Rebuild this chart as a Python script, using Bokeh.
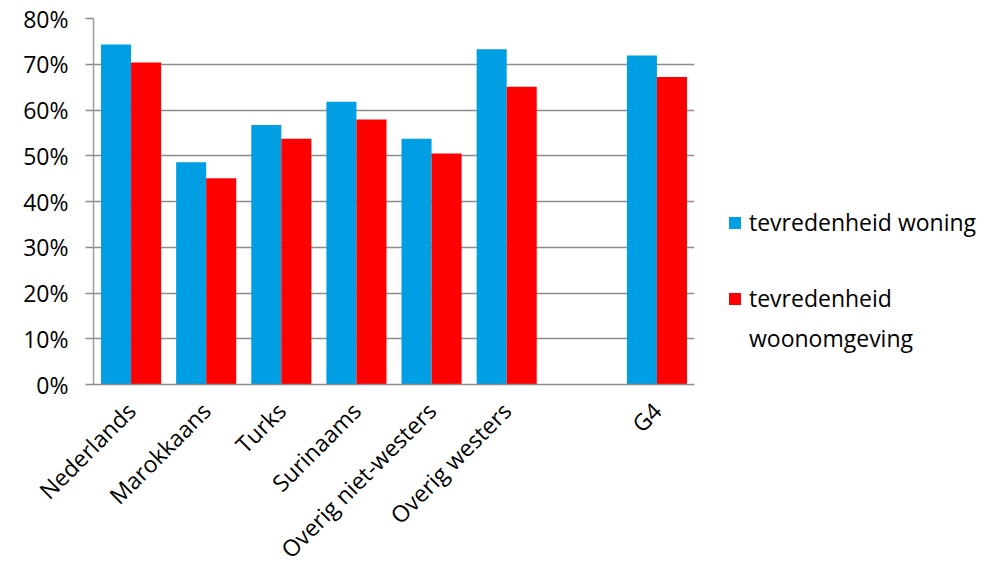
from math import pi
from bokeh.plotting import figure
from bokeh.models import (ColumnDataSource, FactorRange, Range1d, FixedTicker,
                          NumeralTickFormatter, Legend, LegendItem)
from bokeh.transform import dodge
from bokeh.embed import file_html
from bokeh.resources import INLINE

categories = ["Nederlands", "Marokkaans", "Turks", "Surinaams",
              "Overig niet-westers", "Overig westers", "G4"]
woning = [0.743, 0.486, 0.567, 0.618, 0.537, 0.733, 0.719]
woonomgeving = [0.704, 0.451, 0.537, 0.579, 0.505, 0.651, 0.672]
series_names = ["tevredenheid woning", "tevredenheid", "woonomgeving"]
y_ticks = [0, 0.1, 0.2, 0.3, 0.4, 0.5, 0.6, 0.7, 0.8]

# axis has an empty slot between "Overig westers" and "G4"
axis_factors = categories[:6] + [" "] + categories[6:]

FONT = "Open Sans"
BLUE = "#009FE3"
RED = "#FF0000"

src = ColumnDataSource(dict(cat=categories, woning=woning, omg=woonomgeving))

p = figure(frame_width=601, frame_height=366, output_backend="svg",
           toolbar_location=None,
           x_range=FactorRange(*axis_factors, range_padding=0),
           y_range=Range1d(0, 0.8),
           min_border_left=93, min_border_right=0,
           min_border_top=18, min_border_bottom=189)
p.outline_line_color = None
p.background_fill_color = "white"
p.border_fill_color = "white"

r1 = p.vbar(x=dodge("cat", -0.2, range=p.x_range), top="woning", width=0.4,
            source=src, fill_color=BLUE, line_color=None)
r2 = p.vbar(x=dodge("cat", 0.2, range=p.x_range), top="omg", width=0.4,
            source=src, fill_color=RED, line_color=None)
# invisible renderer used only for legend rows without a swatch
ghost = p.vbar(x=[], top=[], width=0.4, fill_alpha=0, line_alpha=0)

# y axis
p.yaxis.ticker = FixedTicker(ticks=y_ticks)
p.yaxis.formatter = NumeralTickFormatter(format="0%")
p.yaxis.major_label_text_font = FONT
p.yaxis.major_label_text_font_size = "23px"
p.yaxis.major_label_text_color = "black"
p.yaxis.axis_line_color = "#a0a0a0"
p.yaxis.axis_line_width = 1.5
p.yaxis.major_tick_line_color = "#8c8c8c"
p.yaxis.major_tick_line_width = 1.5
p.yaxis.major_tick_out = 8
p.yaxis.major_tick_in = 0
p.yaxis.minor_tick_line_color = None
p.yaxis.major_label_standoff = 17

# x axis
p.xaxis.major_label_orientation = pi / 4
p.xaxis.major_label_text_font = FONT
p.xaxis.major_label_text_font_size = "23px"
p.xaxis.major_label_text_color = "black"
p.xaxis.axis_line_color = "#8c8c8c"
p.xaxis.axis_line_width = 1.5
p.xaxis.major_tick_line_color = None
p.xaxis.minor_tick_line_color = None
p.xaxis.major_label_standoff = 16

# grid
p.xgrid.grid_line_color = None
p.ygrid.grid_line_color = "#8c8c8c"
p.ygrid.grid_line_width = 1.5

legend = Legend(items=[LegendItem(label=series_names[0], renderers=[r1]),
                       LegendItem(label=" ", renderers=[ghost]),
                       LegendItem(label=series_names[1], renderers=[r2]),
                       LegendItem(label=series_names[2], renderers=[ghost])],
                location=(33, 30), orientation="vertical",
                border_line_color=None, background_fill_alpha=0,
                padding=0, margin=0, spacing=8,
                glyph_width=15, glyph_height=15, label_height=28,
                label_standoff=7,
                label_text_font=FONT, label_text_font_size="23px",
                label_text_color="black")
p.add_layout(legend, "right")

open("out.html", "w").write(file_html(p, INLINE))
